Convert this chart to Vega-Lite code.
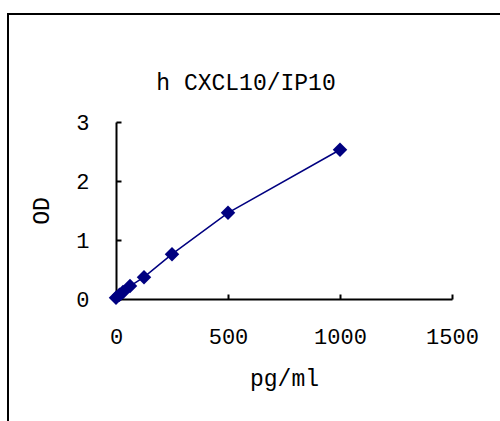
{
  "$schema": "https://vega.github.io/schema/vega-lite/v6.json",
  "autosize": {"type": "none"},
  "padding": {"left": 8, "top": 14, "right": 0, "bottom": 0},
  "width": 500,
  "height": 420,
  "background": "white",
  "title": {
    "text": "h CXCL10/IP10",
    "anchor": "middle",
    "dx": -12,
    "offset": -81,
    "font": "Liberation Mono",
    "fontSize": 23,
    "fontWeight": "normal",
    "color": "black"
  },
  "data": {
    "values": [
      {"conc": 0, "od": 0.02},
      {"conc": 15.6, "od": 0.07},
      {"conc": 31.25, "od": 0.12},
      {"conc": 62.5, "od": 0.22},
      {"conc": 125, "od": 0.37},
      {"conc": 250, "od": 0.76},
      {"conc": 500, "od": 1.46},
      {"conc": 1000, "od": 2.53}
    ]
  },
  "mark": {
    "type": "line",
    "color": "#000080",
    "strokeWidth": 1.5,
    "point": {"shape": "diamond", "size": 210, "filled": true, "color": "#000080", "opacity": 1}
  },
  "encoding": {
    "x": {
      "field": "conc",
      "type": "quantitative",
      "scale": {"domain": [0, 1500], "range": [108, 444], "nice": false, "zero": false},
      "axis": {
        "title": "pg/ml",
        "values": [0, 500, 1000, 1500],
        "format": "d",
        "labelFlush": false,
        "offset": -135,
        "grid": false,
        "domainColor": "black",
        "domainWidth": 2,
        "tickColor": "black",
        "tickWidth": 2,
        "tickSize": -5,
        "labelPadding": 32,
        "labelFont": "Liberation Mono",
        "labelFontSize": 22,
        "labelColor": "black",
        "titleFont": "Liberation Mono",
        "titleFontSize": 23,
        "titleFontWeight": "normal",
        "titleColor": "black",
        "titlePadding": 20
      }
    },
    "y": {
      "field": "od",
      "type": "quantitative",
      "scale": {"domain": [0, 3], "range": [285, 108], "nice": false, "zero": false},
      "axis": {
        "title": "OD",
        "values": [0, 1, 2, 3],
        "format": "d",
        "labelFlush": false,
        "offset": -108,
        "grid": false,
        "domainColor": "black",
        "domainWidth": 2,
        "tickColor": "black",
        "tickWidth": 2,
        "tickSize": -5,
        "labelPadding": 32,
        "labelFont": "Liberation Mono",
        "labelFontSize": 22,
        "labelColor": "black",
        "titleFont": "Liberation Mono",
        "titleFontSize": 23,
        "titleFontWeight": "normal",
        "titleColor": "black",
        "titlePadding": 22
      }
    }
  },
  "config": {
    "view": {"stroke": "black", "strokeWidth": 2, "fill": "white"}
  }
}
